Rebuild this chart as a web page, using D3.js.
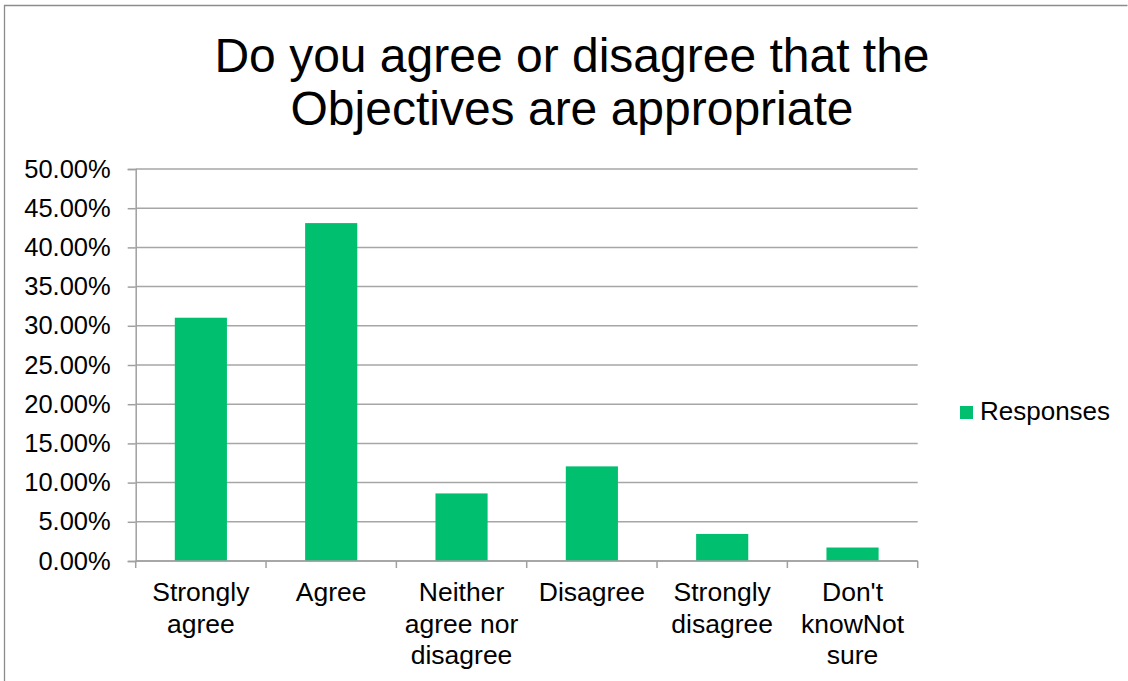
<!DOCTYPE html>
<html>
<head>
<meta charset="utf-8">
<script src="https://cdn.jsdelivr.net/npm/d3@7/dist/d3.min.js"></script>
<style>
  html, body { margin: 0; padding: 0; background: #fff; }
  svg { display: block; font-family: "Liberation Sans", Arial, sans-serif; }
</style>
</head>
<body>
<svg id="chart" width="1128" height="681"></svg>
<script>
// Survey question and answer options
const titleLines = ["Do you agree or disagree that the", "Objectives are appropriate"];
const categories = ["Strongly agree", "Agree", "Neither agree nor disagree", "Disagree", "Strongly disagree", "Don't knowNot sure"];
// Share of respondents per option (fractions)
const responses = [0.3103, 0.4310, 0.0862, 0.1207, 0.0345, 0.0172];
const seriesName = "Responses";
const yTicks = [0, 0.05, 0.10, 0.15, 0.20, 0.25, 0.30, 0.35, 0.40, 0.45, 0.50];

const svg = d3.select("#chart");
const W = 1128, H = 681;
const green = "#00bf6f";
const gridColor = "#a6a6a6";
const axisColor = "#a0a0a0";

// Outer chart frame (top and left edges)
svg.append("path")
  .attr("d", `M4.5,${H} V5.5 H1127.5`)
  .attr("fill", "none")
  .attr("stroke", "#8c8c8c")
  .attr("stroke-width", 1.3);

// Title
svg.append("text")
  .attr("x", 572)
  .attr("text-anchor", "middle")
  .attr("font-size", 48)
  .attr("fill", "#000")
  .selectAll("tspan")
  .data(titleLines)
  .join("tspan")
  .attr("x", 572)
  .attr("y", (d, i) => 72 + i * 53)
  .text(d => d);

const plot = { left: 135.7, right: 917.7, top: 169, bottom: 561 };

const x = d3.scaleBand()
  .domain(categories)
  .range([plot.left, plot.right])
  .padding(0);

const y = d3.scaleLinear()
  .domain([0, 0.5])
  .range([plot.bottom, plot.top]);

// Horizontal gridlines
svg.append("g")
  .selectAll("line")
  .data(yTicks)
  .join("line")
  .attr("x1", plot.left)
  .attr("x2", plot.right)
  .attr("y1", d => y(d))
  .attr("y2", d => y(d))
  .attr("stroke", gridColor)
  .attr("stroke-width", 1.5);

// Y axis
const yAxis = svg.append("g")
  .attr("transform", `translate(${plot.left},0)`)
  .call(d3.axisLeft(y).tickValues(yTicks).tickSize(8).tickPadding(17)
    .tickFormat(d => (d * 100).toFixed(2) + "%"));
yAxis.select(".domain").attr("stroke", axisColor).attr("stroke-width", 1.5);
yAxis.selectAll(".tick line").attr("stroke", axisColor).attr("stroke-width", 1.5);
yAxis.selectAll(".tick text")
  .attr("font-size", 25.5)
  .attr("font-family", "Liberation Sans, Arial, sans-serif")
  .attr("fill", "#000");

// Bars
const barFrac = 0.4;
svg.append("g")
  .selectAll("rect")
  .data(categories.map((c, i) => ({ c, v: responses[i] })))
  .join("rect")
  .attr("x", d => x(d.c) + x.bandwidth() * (1 - barFrac) / 2)
  .attr("width", x.bandwidth() * barFrac)
  .attr("y", d => y(d.v))
  .attr("height", d => y(0) - y(d.v))
  .attr("fill", green);

// X axis line and ticks at band boundaries
const xg = svg.append("g");
xg.append("line")
  .attr("x1", plot.left).attr("x2", plot.right)
  .attr("y1", plot.bottom).attr("y2", plot.bottom)
  .attr("stroke", axisColor).attr("stroke-width", 1.5);
const boundaries = categories.map(c => x(c)).concat([plot.right]);
xg.selectAll(".xtick")
  .data(boundaries)
  .join("line")
  .attr("class", "xtick")
  .attr("x1", d => d).attr("x2", d => d)
  .attr("y1", plot.bottom).attr("y2", plot.bottom + 7)
  .attr("stroke", axisColor).attr("stroke-width", 1.5);

// Category labels, wrapped to the band width
const labelSize = 26.5;
const maxLabelWidth = 128;
const labels = xg.selectAll(".xlabel")
  .data(categories)
  .join("text")
  .attr("class", "xlabel")
  .attr("text-anchor", "middle")
  .attr("font-size", labelSize)
  .attr("fill", "#000");

labels.each(function (d) {
  const t = d3.select(this);
  const cx = x(d) + x.bandwidth() / 2;
  const words = d.split(" ");
  const lines = [];
  let line = [];
  const probe = t.append("tspan");
  words.forEach(w => {
    const trial = line.concat([w]).join(" ");
    probe.text(trial);
    if (line.length && probe.node().getComputedTextLength() > maxLabelWidth) {
      lines.push(line.join(" "));
      line = [w];
    } else {
      line.push(w);
    }
  });
  if (line.length) lines.push(line.join(" "));
  probe.remove();
  t.selectAll("tspan")
    .data(lines)
    .join("tspan")
    .attr("x", cx)
    .attr("y", (l, i) => 601 + i * 31.5)
    .text(l => l);
});

// Legend
const legend = svg.append("g");
legend.append("rect")
  .attr("x", 960).attr("y", 406)
  .attr("width", 13).attr("height", 13)
  .attr("fill", green);
legend.append("text")
  .attr("x", 980).attr("y", 420)
  .attr("font-size", 26)
  .attr("fill", "#000")
  .text(seriesName);
</script>
</body>
</html>
